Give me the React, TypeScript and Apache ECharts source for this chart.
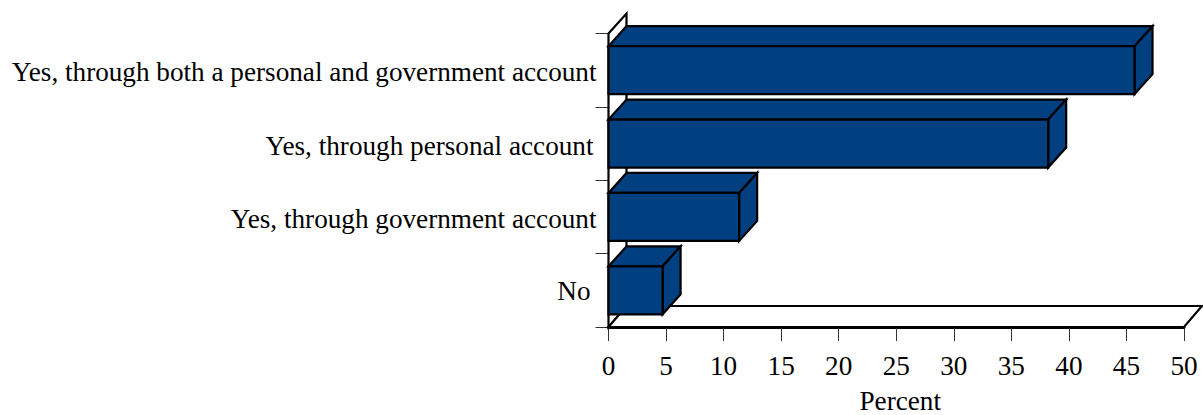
import React, { useEffect, useRef } from "react";
import * as echarts from "echarts";

const categories = [
  "Yes, through both a personal and government account",
  "Yes, through personal account",
  "Yes, through government account",
  "No",
];
const values = [45.7, 38.2, 11.35, 4.7];
const xTicks = { min: 0, max: 50, interval: 5 };
const BAR_H = 48;
const DX = 18;
const DY = 20;
const FILL = "#003f80";
const FONT_SIZE = 27.2;

function poly(points: number[][], fill: string, lw = 2.2) {
  return {
    type: "polygon",
    shape: { points },
    style: { fill, stroke: "#000", lineWidth: lw, lineJoin: "miter" },
  };
}

export default function App() {
  const ref = useRef<HTMLDivElement>(null);
  useEffect(() => {
    const chart = echarts.init(ref.current!, null, { renderer: "svg" });
    const font = "'Liberation Serif', serif";
    const lab = { fontFamily: font, fontSize: FONT_SIZE, color: "#000" };
    chart.setOption({
      animation: false,
      backgroundColor: "#fff",
      grid: { left: 608.5, top: 33.5, width: 575.5, height: 293.5, containLabel: false, outerBoundsMode: "none" },
      xAxis: {
        type: "value",
        min: xTicks.min,
        max: xTicks.max,
        interval: xTicks.interval,
        name: "Percent",
        nameLocation: "middle",
        nameGap: 62,
        nameTextStyle: { ...lab, lineHeight: 24, padding: [0, 0, 0, 8] },
        splitLine: { show: false },
        axisLine: { show: true, onZero: false, lineStyle: { color: "#000", width: 3 } },
        axisTick: { show: true, length: 14, lineStyle: { color: "#333", width: 1 } },
        axisLabel: { ...lab, margin: 25, showMaxLabel: true, hideOverlap: false },
      },
      yAxis: {
        type: "category",
        inverse: true,
        data: categories,
        axisLine: { show: true, onZero: false, lineStyle: { color: "#000", width: 2 } },
        axisTick: { show: true, length: 13, alignWithLabel: false, lineStyle: { color: "#333", width: 1 } },
        axisLabel: {
          ...lab,
          margin: 12,
          interval: 0,
          formatter: (v: string) => `{c${categories.indexOf(v)}|${v}}`,
          rich: {
            c0: { ...lab, padding: [4, 0, 0, 0] },
            c1: { ...lab, padding: [4, 3, 0, 0] },
            c2: { ...lab, padding: [4, 0, 0, 0] },
            c3: { ...lab, padding: [2, 6, 0, 0] },
          },
        },
      },
      series: [
        {
          type: "custom",
          coordinateSystem: "cartesian2d",
          z: 1,
          silent: true,
          clip: false,
          data: [[xTicks.max, categories[0]]],
          encode: { x: 0, y: 1 },
          renderItem: (params: any) => {
            const c = params.coordSys;
            const x0 = c.x, y0 = c.y, x1 = c.x + c.width, y1 = c.y + c.height;
            return {
              type: "group",
              children: [
                poly([[x0, y0], [x0 + DX, y0 - DY], [x0 + DX, y1 - DY], [x0, y1]], "#fff"),
                poly([[x0, y1], [x0 + DX, y1 - DY - 1], [x1 + DX, y1 - DY - 1], [x1, y1]], "#fff"),
              ],
            };
          },
        },
        {
          type: "custom",
          coordinateSystem: "cartesian2d",
          z: 3,
          silent: true,
          clip: false,
          data: values.map((v, i) => [v, categories[i]]),
          encode: { x: 0, y: 1 },
          renderItem: (_: any, api: any) => {
            const [x1, yc] = api.coord([api.value(0), api.value(1)]);
            const [x0] = api.coord([0, api.value(1)]);
            const t = yc - BAR_H / 2;
            const b = yc + BAR_H / 2;
            return {
              type: "group",
              children: [
                poly([[x0, t], [x0 + DX, t - DY], [x1 + DX, t - DY], [x1, t]], FILL),
                poly([[x1, t], [x1 + DX, t - DY], [x1 + DX, b - DY], [x1, b]], FILL),
                poly([[x0, t], [x1, t], [x1, b], [x0, b]], FILL),
              ],
            };
          },
        },
      ],
    });
    return () => chart.dispose();
  }, []);
  return <div ref={ref} style={{ position: "absolute", left: 0, top: 0, width: 1203, height: 415 }} />;
}
